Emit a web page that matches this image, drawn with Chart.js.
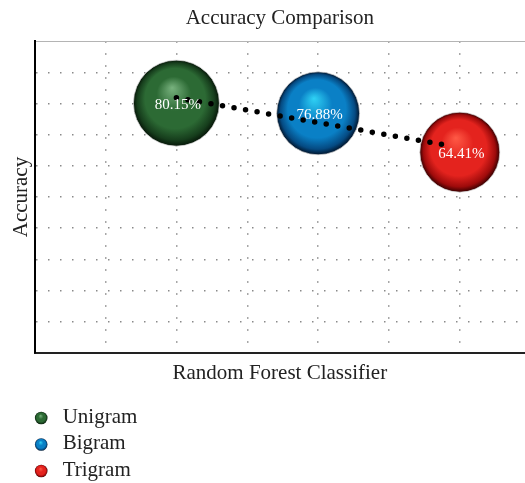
<!DOCTYPE html>
<html>
<head>
<meta charset="utf-8">
<title>Accuracy Comparison</title>
<script src="https://cdn.jsdelivr.net/npm/chart.js@4/dist/chart.umd.min.js"></script>
<style>
  html, body { margin: 0; padding: 0; background: #ffffff; }
  canvas { display: block; }
</style>
</head>
<body>
<canvas id="chart" width="525" height="483"></canvas>
<script>
// Series of the comparison
const seriesNames = ['Unigram', 'Bigram', 'Trigram'];
const seriesX = [2, 4, 6];
const accuracy = [80.15, 76.88, 64.41];

// Dotted trend line end points
const trendX = [2, 5.85];
const trendY = [81.9, 66.5];

// Visible axis ranges
const xRange = [0, 6.92];
const yRange = [0, 100];

// Sphere shading and size per series
const spherePalettes = [
  { hi: '#78b27e', mid: '#2c6a34', dark: '#163d1c', edge: '#061608' },
  { hi: '#2fd2f5', mid: '#0a80c6', dark: '#054a82', edge: '#01142a' },
  { hi: '#ff5a46', mid: '#e4231e', dark: '#9e0b0b', edge: '#360000' }
];
const sphereRadii = [43, 41.5, 40];

const FONT = "'Liberation Serif', 'DejaVu Serif', serif";
Chart.defaults.font.family = FONT;
Chart.defaults.color = '#222222';

function sphereGradient(ctx, cx, cy, r, pal) {
  const g = ctx.createRadialGradient(cx - 0.1 * r, cy - 0.36 * r, 0, cx, cy, r);
  g.addColorStop(0, pal.hi);
  g.addColorStop(0.4, pal.mid);
  g.addColorStop(0.7, pal.mid);
  g.addColorStop(0.9, pal.dark);
  g.addColorStop(1, pal.edge);
  return g;
}

const bubbleSets = seriesNames.map((name, i) => ({
  type: 'bubble',
  label: name,
  order: 2,
  data: [{ x: seriesX[i], y: accuracy[i] }],
  radius: sphereRadii[i],
  hoverRadius: 0,
  borderWidth: 1,
  borderColor: 'rgba(215,215,215,0.7)',
  backgroundColor: (c) => {
    if (c.type !== 'data' || !c.raw) return spherePalettes[i].mid;
    const ch = c.chart;
    const cx = ch.scales.x.getPixelForValue(c.raw.x);
    const cy = ch.scales.y.getPixelForValue(c.raw.y);
    if (!isFinite(cx) || !isFinite(cy)) return spherePalettes[i].mid;
    return sphereGradient(ch.ctx, cx, cy, sphereRadii[i], spherePalettes[i]);
  }
}));

const trendSet = {
  type: 'line',
  label: 'trend',
  order: 1,
  data: trendX.map((x, i) => ({ x, y: trendY[i] })),
  borderColor: '#000000',
  borderWidth: 5.5,
  borderDash: [0, 11.7],
  borderCapStyle: 'round',
  pointRadius: 0,
  fill: false
};

// Percent labels centred on each sphere
const valueLabels = {
  id: 'valueLabels',
  afterDatasetsDraw(chart) {
    const ctx = chart.ctx;
    ctx.save();
    ctx.font = '15px ' + FONT;
    ctx.fillStyle = '#ffffff';
    ctx.textAlign = 'center';
    ctx.textBaseline = 'middle';
    seriesNames.forEach((_, i) => {
      const el = chart.getDatasetMeta(i).data[0];
      ctx.fillText(accuracy[i].toFixed(2) + '%', el.x + 1.5, el.y + 2);
    });
    ctx.restore();
  }
};

// Vertical legend under the x-axis title
const sphereLegend = {
  id: 'sphereLegend',
  afterDraw(chart) {
    const ctx = chart.ctx;
    const left = chart.chartArea.left;
    const top = chart.scales.x.bottom;
    ctx.save();
    ctx.font = '21px ' + FONT;
    ctx.textAlign = 'left';
    ctx.textBaseline = 'middle';
    chart.data.datasets.forEach((ds, i) => {
      if (ds.type !== 'bubble') return;
      const cx = left + 6.5;
      const cy = top + 32 + i * 26.5;
      const r = 6.3;
      ctx.beginPath();
      ctx.arc(cx, cy, r, 0, Math.PI * 2);
      ctx.fillStyle = sphereGradient(ctx, cx, cy, r, spherePalettes[i]);
      ctx.fill();
      ctx.fillStyle = '#222222';
      ctx.fillText(ds.label, left + 28, cy - 1);
    });
    ctx.restore();
  }
};

// Dotted grid only on whole-step ticks inside the frame
const dottedGrid = (lo, hi) => (c) => {
  const v = c.tick ? c.tick.value : NaN;
  const onStep = Math.abs(v - Math.round(v)) < 1e-6;
  return (onStep && v > lo && v < hi) ? '#8a8a8a' : 'rgba(0,0,0,0)';
};

new Chart(document.getElementById('chart'), {
  data: { datasets: [...bubbleSets, trendSet] },
  options: {
    responsive: false,
    animation: false,
    events: [],
    layout: { autoPadding: false, padding: { left: 0, right: 0, top: 0, bottom: 97 } },
    plugins: {
      legend: { display: false },
      tooltip: { enabled: false },
      title: {
        display: true,
        text: 'Accuracy Comparison',
        fullSize: false,
        color: '#222222',
        font: { family: FONT, size: 21, weight: 'normal' },
        padding: { top: 5.5, bottom: 10.6 }
      }
    },
    scales: {
      x: {
        type: 'linear',
        position: 'bottom',
        min: xRange[0],
        max: xRange[1],
        ticks: { display: false, stepSize: 1 },
        grid: { drawTicks: false, lineWidth: 1.5, color: dottedGrid(xRange[0], xRange[1]) },
        border: { display: true, color: '#222222', width: 2, dash: [1.5, 10.5] },
        title: {
          display: true,
          text: 'Random Forest Classifier',
          color: '#222222',
          font: { family: FONT, size: 21 },
          padding: { top: 8, bottom: 0 }
        }
      },
      x2: {
        type: 'linear',
        position: 'top',
        min: xRange[0],
        max: xRange[1],
        ticks: { display: false },
        grid: { display: false, drawTicks: false },
        border: { display: true, color: '#b4b4b4', width: 1 }
      },
      y: {
        type: 'linear',
        position: 'left',
        min: yRange[0],
        max: yRange[1],
        ticks: { display: false, stepSize: 10 },
        grid: { drawTicks: false, lineWidth: 1.5, color: dottedGrid(yRange[0], yRange[1]) },
        border: { display: true, color: '#000000', width: 2, dash: [1.5, 10.5] },
        title: {
          display: true,
          text: 'Accuracy',
          color: '#222222',
          font: { family: FONT, size: 21 },
          padding: { top: 9, bottom: 0.5 }
        }
      }
    }
  },
  plugins: [valueLabels, sphereLegend]
});
</script>
</body>
</html>
